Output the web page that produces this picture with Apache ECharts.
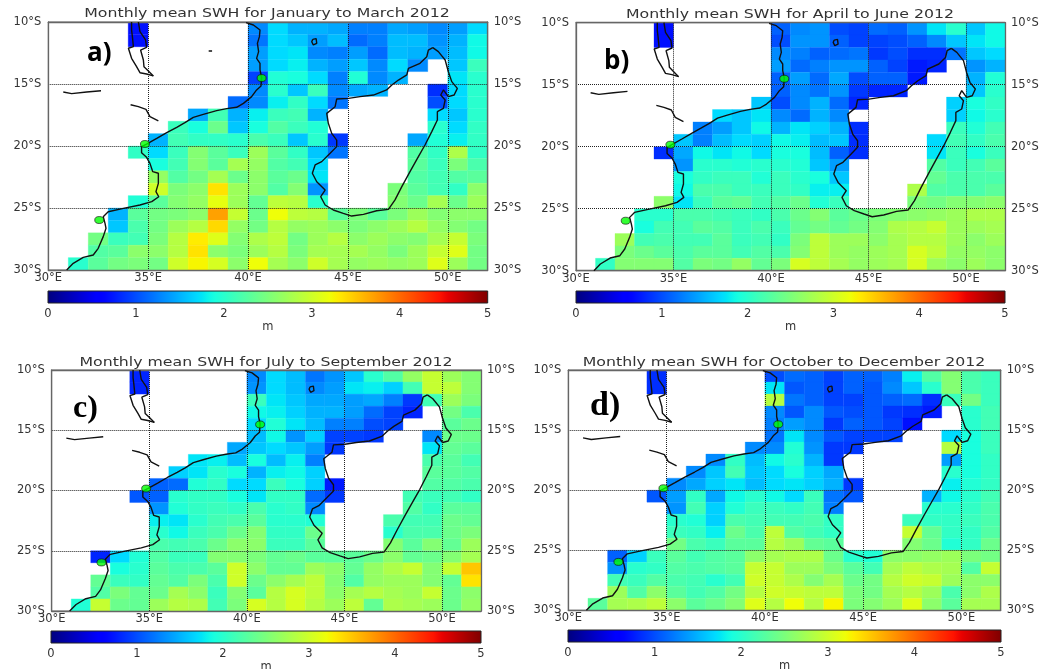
<!DOCTYPE html>
<html>
<head>
<meta charset="utf-8">
<style>html,body{margin:0;padding:0;background:#fff}#c{width:1045px;height:669px;filter:blur(.45px)}</style>
<script src="https://cdn.jsdelivr.net/npm/echarts@6/dist/echarts.min.js"></script>
</head>
<body>
<div id="c"></div>
<script>
const _ = null;
// Significant wave height (m), one row per 1 degree of latitude from 10S to 30S, columns 30E to 51E
const janMar = [
[_,_,_,_,.7,_,_,_,_,_,1.3,1.7,1.5,1.5,1.45,1.25,1.25,1.45,1.4,1.3,1.4,1.7],
[_,_,_,_,.7,_,_,_,_,_,1.2,1.7,1.6,1.4,1.55,1.15,1.25,1.55,1.55,1.35,1.5,1.85],
[_,_,_,_,_,_,_,_,_,_,1.4,1.7,1.75,1.3,1.25,1.4,1.15,1.55,1.5,1.4,1.55,1.85],
[_,_,_,_,_,_,_,_,_,_,1.4,1.7,1.8,1.5,1.4,1.6,1.3,1.7,1.3,_,1.6,2.1],
[_,_,_,_,_,_,_,_,_,_,.95,1.95,1.9,1.7,1.25,1.95,1.3,1.5,_,_,1.75,2.0],
[_,_,_,_,_,_,_,_,_,_,1.3,2.0,1.6,2.1,1.3,1.45,1.5,_,_,.85,1.7,2.0],
[_,_,_,_,_,_,_,_,_,1.15,1.3,1.8,2.05,1.7,1.2,_,_,_,_,1.0,1.7,2.0],
[_,_,_,_,_,_,_,1.45,2.15,1.5,1.8,2.1,2.15,1.5,_,_,_,_,_,1.7,1.6,2.0],
[_,_,_,_,_,_,2.1,1.9,2.4,1.6,1.9,2.25,2.1,1.95,_,_,_,_,_,2.0,1.7,2.05],
[_,_,_,_,_,1.5,2.15,2.05,2.05,2.0,2.2,2.1,1.6,2.0,.9,_,_,_,1.45,1.95,1.8,2.05],
[_,_,_,_,2.05,1.7,2.1,2.55,2.3,2.1,2.7,2.3,2.05,1.6,1.2,_,_,_,2.25,2.05,2.8,2.05],
[_,_,_,_,_,1.9,2.15,2.55,2.3,2.75,2.65,2.25,2.15,1.7,_,_,_,_,2.3,2.1,2.5,2.2],
[_,_,_,_,_,2.65,2.25,2.45,2.75,2.4,2.6,2.3,2.4,1.75,_,_,_,_,2.25,2.15,2.25,2.3],
[_,_,_,_,_,3.0,2.5,2.6,3.35,2.7,2.6,2.25,2.55,1.35,_,_,_,2.5,2.3,2.15,2.05,2.6],
[_,_,_,_,1.95,2.3,2.55,2.65,3.15,2.7,2.35,2.9,2.85,2.0,_,_,_,2.55,2.4,2.75,2.4,2.7],
[_,_,_,1.5,2.3,2.45,2.5,2.6,3.7,2.95,2.4,3.2,2.9,2.85,2.3,2.5,2.3,2.5,2.7,2.55,2.6,2.6],
[_,_,_,1.6,2.2,2.45,2.7,2.85,3.4,2.65,2.45,2.85,2.65,2.7,2.6,2.5,2.6,2.7,2.85,2.65,2.55,2.45],
[_,_,2.45,2.1,2.15,2.5,2.85,3.3,3.1,2.55,2.8,2.9,2.45,2.7,2.85,2.6,2.7,2.6,2.55,2.75,2.95,2.5],
[_,_,2.25,2.3,2.6,2.6,2.85,3.35,2.6,2.5,2.7,2.85,2.5,2.75,2.75,2.75,2.65,2.5,2.7,2.95,3.1,2.45],
[_,2.0,2.3,2.45,2.5,2.45,3.0,3.25,3.05,2.6,3.2,2.75,2.6,3.0,2.75,2.65,2.7,2.65,2.7,3.1,2.7,2.45]
];
const aprJun = [
[_,_,_,_,.7,_,_,_,_,_,1.1,1.3,1.35,1.0,.95,1.15,1.1,1.35,1.75,2.0,1.6,1.85],
[_,_,_,_,.7,_,_,_,_,_,1.0,1.35,1.35,1.1,.95,.95,1.0,1.1,1.3,1.6,1.75,1.85],
[_,_,_,_,_,_,_,_,_,_,1.3,1.25,1.1,1.15,1.2,.9,1.0,.85,.85,1.2,1.6,1.7],
[_,_,_,_,_,_,_,_,_,_,1.4,1.15,1.25,1.35,1.35,1.1,.95,.75,.8,_,1.35,1.5],
[_,_,_,_,_,_,_,_,_,_,1.1,1.4,1.15,1.45,1.0,1.1,1.1,.75,_,_,1.5,1.95],
[_,_,_,_,_,_,_,_,_,_,1.1,1.3,1.2,1.35,.9,.8,.8,_,_,_,1.6,2.0],
[_,_,_,_,_,_,_,_,_,1.6,1.0,1.3,1.5,1.15,.8,_,_,_,_,1.65,1.9,2.05],
[_,_,_,_,_,_,_,1.7,1.6,1.75,1.3,1.15,1.5,1.3,_,_,_,_,_,1.65,1.85,2.0],
[_,_,_,_,_,_,1.25,1.4,1.6,1.85,1.5,1.75,1.65,1.5,.85,_,_,_,_,2.1,1.95,2.15],
[_,_,_,_,_,1.6,1.25,1.55,1.7,1.65,1.85,1.8,1.55,1.6,.85,_,_,_,1.7,2.15,2.05,2.2],
[_,_,_,_,.85,1.45,1.85,1.75,1.85,1.7,1.9,1.9,1.55,1.1,.85,_,_,_,1.75,2.1,1.9,2.1],
[_,_,_,_,_,1.35,2.0,2.0,1.95,2.0,2.0,1.95,1.6,1.4,_,_,_,_,2.25,2.1,2.15,2.3],
[_,_,_,_,_,1.9,2.05,2.1,2.1,1.95,2.1,2.0,1.9,1.6,_,_,_,_,2.35,2.2,2.2,2.2],
[_,_,_,_,_,1.85,2.2,2.2,2.1,2.1,2.1,2.05,1.8,1.8,_,_,_,2.8,2.25,2.2,2.2,2.3],
[_,_,_,_,2.6,1.75,2.1,2.3,2.35,2.15,2.25,2.4,1.95,2.1,_,_,_,2.5,2.45,2.55,2.55,2.6],
[_,_,_,2.0,2.0,2.2,2.2,2.15,2.1,2.05,2.2,2.4,2.55,2.3,2.4,2.5,2.55,2.6,2.65,2.7,2.8,2.8],
[_,_,_,1.9,2.15,2.15,2.3,2.25,2.1,2.2,2.1,2.35,2.45,2.35,2.45,2.55,2.8,2.85,2.95,2.7,2.7,2.75],
[_,_,2.7,2.15,2.2,2.15,2.15,2.3,2.1,2.15,2.05,2.5,2.9,2.7,2.7,2.6,2.75,2.85,2.85,2.7,2.6,2.7],
[_,_,2.5,2.4,2.3,2.2,2.3,2.3,2.15,2.25,2.2,2.55,2.9,2.7,2.65,2.7,2.75,3.05,2.9,2.65,2.65,2.6],
[_,2.05,2.55,2.55,2.55,2.25,2.5,2.45,2.65,2.35,2.5,3.05,2.9,2.75,2.65,2.7,2.75,3.05,2.7,2.6,2.7,2.6]
];
const julSep = [
[_,_,_,_,.8,_,_,_,_,_,1.3,1.7,1.55,1.2,1.35,1.6,2.0,2.25,2.65,2.95,2.7,2.55],
[_,_,_,_,.8,_,_,_,_,_,1.35,1.7,1.55,1.3,1.4,1.75,1.8,1.65,2.15,2.95,2.9,2.55],
[_,_,_,_,_,_,_,_,_,_,2.1,1.75,1.6,1.45,1.45,1.4,1.45,1.25,.9,2.15,2.7,2.5],
[_,_,_,_,_,_,_,_,_,_,1.85,1.8,1.65,1.5,1.5,1.4,1.15,.95,.8,_,2.45,2.2],
[_,_,_,_,_,_,_,_,_,_,1.7,1.95,1.75,1.55,1.25,1.25,1.0,.95,_,_,2.3,2.4],
[_,_,_,_,_,_,_,_,_,_,1.55,1.85,1.35,1.65,.95,.95,.9,_,_,1.3,2.4,2.4],
[_,_,_,_,_,_,_,_,_,1.45,1.6,1.7,1.6,1.4,.9,_,_,_,_,1.75,2.35,2.3],
[_,_,_,_,_,_,_,1.75,1.8,1.55,1.9,1.55,1.8,1.25,_,_,_,_,_,2.2,2.3,2.15],
[_,_,_,_,_,_,1.65,1.75,2.0,1.9,1.5,1.8,1.85,1.65,_,_,_,_,_,2.3,2.3,2.25],
[_,_,_,_,_,1.1,1.15,1.95,2.05,1.7,1.7,2.1,1.9,1.65,.75,_,_,_,_,2.25,2.25,2.2],
[_,_,_,_,1.05,1.1,2.0,2.05,2.05,1.9,1.75,2.05,2.05,1.15,.9,_,_,_,2.15,2.1,2.15,2.05],
[_,_,_,_,_,1.35,1.95,2.05,2.1,2.05,2.2,2.0,2.05,1.3,_,_,_,_,2.25,2.05,2.3,2.3],
[_,_,_,_,_,1.8,1.75,2.0,2.15,2.2,2.3,2.0,2.0,1.95,_,_,_,2.2,2.15,2.15,2.4,2.35],
[_,_,_,_,_,2.0,1.85,2.1,2.2,2.4,2.55,2.05,2.05,2.4,_,_,_,2.0,2.2,2.2,2.4,2.5],
[_,_,_,_,_,2.2,2.15,2.2,2.4,2.6,2.6,2.1,2.1,2.3,_,_,_,2.55,2.3,2.55,2.35,2.7],
[_,_,.8,1.7,1.95,2.25,2.1,2.1,2.55,2.55,2.5,2.35,2.4,2.3,2.3,2.3,2.4,2.6,2.35,2.4,2.55,2.75],
[_,_,_,1.9,2.0,2.3,2.2,2.2,2.3,3.0,2.6,2.35,2.35,2.7,2.6,2.35,2.65,2.8,2.95,2.55,2.95,3.5],
[_,_,2.35,2.1,2.05,2.35,2.25,2.5,2.2,3.0,2.4,2.6,2.75,2.9,2.55,2.25,2.65,2.7,2.7,2.55,2.35,3.35],
[_,_,2.25,2.5,2.35,2.4,2.75,2.6,2.1,2.55,2.3,2.85,3.05,2.9,2.6,2.75,2.85,2.75,2.7,2.95,2.4,2.6],
[_,1.95,2.95,2.4,2.35,2.7,2.85,2.8,2.15,2.5,3.05,2.85,3.05,2.85,2.7,2.9,2.35,2.8,2.75,2.7,2.4,2.65]
];
const octDec = [
[_,_,_,_,.85,_,_,_,_,_,1.0,1.15,1.1,.95,1.1,1.1,1.25,1.8,2.25,2.55,2.2,2.1],
[_,_,_,_,.85,_,_,_,_,_,1.75,1.05,1.1,.95,1.1,1.05,1.3,1.6,2.0,2.55,2.2,2.1],
[_,_,_,_,_,_,_,_,_,_,2.85,1.2,1.1,.95,.95,1.05,1.1,1.15,.85,2.1,2.45,2.1],
[_,_,_,_,_,_,_,_,_,_,1.3,1.05,1.3,1.05,1.0,1.05,.9,.85,.75,_,2.0,2.15],
[_,_,_,_,_,_,_,_,_,_,1.25,1.4,1.3,.9,1.1,1.05,.95,.7,_,_,2.0,2.15],
[_,_,_,_,_,_,_,_,_,_,1.2,1.75,1.3,1.05,.95,.95,.95,_,_,1.7,1.9,2.1],
[_,_,_,_,_,_,_,_,_,1.3,1.3,1.95,1.35,.9,.9,_,_,_,_,2.85,1.9,2.1],
[_,_,_,_,_,_,_,1.3,2.05,1.55,1.85,2.0,1.5,.9,_,_,_,_,_,1.4,1.9,2.05],
[_,_,_,_,_,_,1.3,1.6,2.15,1.6,1.7,1.9,1.65,1.45,_,_,_,_,_,2.0,1.9,2.05],
[_,_,_,_,_,1.3,1.45,1.65,1.75,1.55,1.7,1.75,1.65,1.5,.9,_,_,_,_,1.8,1.95,2.05],
[_,_,_,_,1.05,1.4,2.05,1.45,1.85,2.0,1.85,1.7,2.1,1.2,1.05,_,_,_,1.5,1.85,2.0,2.15],
[_,_,_,_,_,1.35,2.15,1.65,1.95,2.1,2.1,2.05,2.15,1.25,_,_,_,_,2.0,2.0,2.05,2.2],
[_,_,_,_,_,2.0,1.95,1.65,2.2,2.15,2.15,2.15,2.2,2.05,_,_,_,2.1,2.05,2.05,2.1,2.2],
[_,_,_,_,_,2.1,2.05,1.8,2.4,2.2,2.9,2.25,2.15,2.05,_,_,_,2.95,2.35,2.05,2.05,2.25],
[_,_,_,_,_,2.45,2.2,2.1,2.3,2.3,2.85,2.7,2.35,2.3,_,_,_,2.55,2.4,1.95,2.05,2.4],
[_,_,1.1,1.65,2.1,2.3,2.15,2.25,2.3,2.6,2.75,2.8,2.8,2.4,2.0,1.95,2.6,2.6,2.65,2.7,2.5,2.45],
[_,_,1.35,2.0,2.05,2.25,2.2,2.25,2.3,2.95,2.95,2.7,2.7,2.5,2.3,2.15,2.75,2.9,2.8,2.75,2.25,2.95],
[_,_,2.15,2.1,2.25,2.2,2.15,2.0,2.15,3.0,2.95,2.8,2.55,2.75,2.4,2.45,2.85,3.0,2.95,2.7,2.6,2.6],
[_,_,2.7,2.25,2.6,2.3,2.15,2.25,2.45,2.85,3.0,2.95,2.9,2.9,2.5,2.45,2.75,2.85,2.7,2.2,2.6,2.8],
[_,2.3,2.75,2.8,2.9,2.6,2.3,2.4,2.55,3.1,2.85,3.2,2.85,3.25,2.5,2.55,2.7,3.1,2.6,2.3,2.75,2.75]
];
// Coastlines as [lon, lat]
const africaCoast = [[39.90,-10.05],[40.27,-10.24],[40.60,-10.65],[40.57,-11.18],[40.47,-11.72],[40.53,-12.39],[40.43,-12.93],[40.60,-13.33],[40.60,-13.87],[40.68,-14.46],[40.65,-15.16],[40.43,-15.48],[40.18,-16.02],[39.77,-16.56],[39.43,-16.88],[38.93,-16.99],[38.43,-17.15],[37.76,-17.45],[37.26,-17.69],[36.84,-18.12],[36.43,-18.49],[35.93,-18.92],[35.43,-19.38],[34.92,-19.84],[34.67,-20.05],[34.67,-20.54],[34.92,-20.91],[35.09,-21.40],[35.23,-22.07],[35.51,-22.20],[35.51,-23.01],[35.39,-23.68],[35.53,-24.09],[35.18,-24.49],[34.59,-24.76],[33.76,-25.03],[33.00,-25.30],[32.75,-25.70],[32.84,-26.24],[32.89,-26.64],[32.75,-27.31],[32.50,-28.25],[32.25,-28.79],[31.75,-28.98],[31.25,-29.46],[30.92,-30.00]];
const madagascarCoast = [[49.25,-12.07],[49.53,-12.39],[49.87,-13.06],[50.03,-14.01],[50.20,-14.81],[50.48,-15.35],[50.32,-15.89],[50.03,-16.02],[49.78,-15.48],[49.65,-15.89],[49.87,-16.29],[49.78,-16.96],[49.48,-17.23],[49.48,-17.90],[49.20,-18.84],[48.86,-19.92],[48.53,-20.86],[48.11,-22.07],[47.70,-23.28],[47.36,-24.35],[47.03,-25.11],[46.44,-25.22],[45.78,-25.51],[45.19,-25.65],[44.77,-25.43],[44.27,-25.16],[43.86,-24.76],[43.64,-24.09],[43.86,-23.55],[43.44,-22.88],[43.22,-22.20],[43.36,-21.53],[43.69,-21.26],[44.11,-20.59],[44.44,-20.05],[44.44,-19.52],[44.19,-18.98],[44.02,-18.17],[43.94,-17.37],[44.36,-16.83],[44.44,-16.21],[45.03,-16.16],[45.61,-16.02],[46.28,-15.89],[46.94,-15.48],[47.20,-15.08],[47.53,-14.68],[47.95,-14.27],[48.03,-13.74],[48.61,-13.33],[48.95,-12.80],[49.03,-12.26],[49.25,-12.07]];
const lakeWest = [[34.17,-10],[34.17,-10.65],[34.21,-11.18],[34.26,-11.99],[34.01,-12.12],[34.17,-12.93],[34.42,-13.60],[34.59,-14.09],[34.92,-14.19],[35.26,-14.35]];
const lakeEast = [[34.51,-10],[34.59,-10.78],[34.87,-11.45],[34.92,-12.04],[34.62,-12.26],[34.76,-13.06],[34.79,-13.60],[35.01,-13.95],[35.26,-14.35]];
const riverWest = [[30.75,-15.65],[31.17,-15.78],[31.92,-15.65],[32.64,-15.54]];
const riverEast = [[34.12,-16.67],[34.51,-16.83],[34.89,-17.04],[35.09,-17.63],[35.51,-17.98]];
const comoros = [[43.24,-11.40],[43.41,-11.34],[43.44,-11.72],[43.51,-11.85],[43.27,-11.85],[43.19,-11.59],[43.24,-11.40]];
const strayMark = [[38.03,-12.34],[38.20,-12.34]];
const stations = [[40.68,-14.52],[34.84,-19.84],[32.55,-25.97]];
const colorTicks = [0,1,2,3,4,5];
const titles = ['Monthly mean SWH for January to March 2012','Monthly mean SWH for April to June 2012','Monthly mean SWH for July to September 2012','Monthly mean SWH for October to December 2012'];
const letters = ['a)','b)','c)','d)'];
const grids = [janMar,aprJun,julSep,octDec];

const rSeg=[[0,0],[.35,0],[.66,1],[.89,1],[1,.5]];
const gSeg=[[0,0],[.125,0],[.375,1],[.64,1],[.91,0],[1,0]];
const bSeg=[[0,.5],[.11,1],[.34,1],[.65,0],[1,0]];
function seg(s,t){for(let i=1;i<s.length;i++){if(t<=s[i][0]){const a=s[i-1],b=s[i];return a[1]+(b[1]-a[1])*(t-a[0])/(b[0]-a[0]);}}return s[s.length-1][1];}
function jet(v){const t=Math.max(0,Math.min(1,v/5));return 'rgb('+[rSeg,gSeg,bSeg].map(s=>Math.round(seg(s,t)*255)).join(',')+')';}
const stops=[];for(let i=0;i<=100;i++)stops.push({offset:i/100,color:jet(i/20)});

const panels=[
 {l:48.3,r:487.7,t:22,b:270,bt:291,bb:303,bl:48,br:487.7,tx:267,ty:14,lx:87,ly:41,font:'bold 26px "Open Sans"'},
 {l:576,r:1005,t:22.7,b:270.7,bt:291,bb:303,bl:576,br:1005,tx:790,ty:15,lx:604,ly:49,font:'bold 26px "Open Sans"'},
 {l:51.7,r:481,t:370,b:611,bt:631,bb:643,bl:51,br:481,tx:266,ty:363,lx:73,ly:393,font:'bold 32px "Liberation Serif"'},
 {l:568.3,r:1000.7,t:370,b:610.3,bt:630,bb:642,bl:568,br:1001,tx:784,ty:363,lx:590,ly:389,font:'bold 34px "Liberation Serif"'}
];
const txt='#333',fam='"DejaVu Sans"',W=1045,H=669;
const option={animation:false,backgroundColor:'#fff',grid:[],xAxis:[],yAxis:[],series:[],graphic:[]};
panels.forEach((p,k)=>{
 const gi=option.grid.length;
 option.graphic.push({type:'text',x:p.tx,y:p.ty,scaleX:1.26,z:10,style:{text:titles[k],textAlign:'center',textVerticalAlign:'middle',font:'12.5px '+fam,fill:txt}});
 option.grid.push({left:p.l,width:p.r-p.l,top:p.t,height:p.b-p.t,outerBoundsMode:'none',show:true,backgroundColor:'#fff',borderColor:'#666',borderWidth:1});
 option.grid.push({left:p.bl,width:p.br-p.bl,top:p.bt,height:p.bb-p.bt,outerBoundsMode:'none',show:true,borderColor:'#222',borderWidth:1,z:5});
 const xi=option.xAxis.length,yi=option.yAxis.length;
 const grid={show:true,lineStyle:{color:'#222',width:1,type:[1,1]}};
 const frame={show:true,lineStyle:{color:'#666',width:1.3}};
 option.xAxis.push({type:'value',gridIndex:gi,min:30,max:52,interval:5,z:5,axisLine:frame,axisTick:{show:false},splitLine:grid,
   axisLabel:{margin:2,color:txt,fontFamily:fam,fontSize:11.5,formatter:v=>v%5===0?v+'°E':''}});
 option.xAxis.push({type:'value',gridIndex:gi,position:'top',min:30,max:52,interval:5,z:5,axisLine:frame,axisTick:{show:false},splitLine:{show:false},axisLabel:{show:false}});
 option.yAxis.push({type:'value',gridIndex:gi,min:-30,max:-10,interval:5,z:5,axisLine:frame,axisTick:{show:false},splitLine:grid,
   axisLabel:{margin:7,color:txt,fontFamily:fam,fontSize:11.5,formatter:v=>(-v)+'°S'}});
 option.yAxis.push({type:'value',gridIndex:gi,position:'right',min:-30,max:-10,interval:5,z:5,axisLine:frame,axisTick:{show:false},splitLine:{show:false},
   axisLabel:{margin:6,color:txt,fontFamily:fam,fontSize:11.5,formatter:v=>(-v)+'°S'}});
 option.xAxis.push({type:'value',gridIndex:gi+1,min:colorTicks[0],max:colorTicks[5],interval:1,axisLine:{show:false},axisTick:{show:false},splitLine:{show:false},
   name:'m',nameLocation:'middle',nameGap:16,nameTextStyle:{color:txt,fontFamily:fam,fontSize:11.5},
   axisLabel:{margin:5,color:txt,fontFamily:fam,fontSize:11.5}});
 option.yAxis.push({type:'value',gridIndex:gi+1,min:0,max:1,show:false});
 const cells=[];
 grids[k].forEach((row,r)=>row.forEach((v,c)=>{if(v!==null)cells.push([30+c,-10-r,v]);}));
 option.series.push({type:'custom',xAxisIndex:xi,yAxisIndex:yi,z:2,silent:true,data:cells,clip:true,
   encode:{x:0,y:1},renderItem:(params,api)=>{
    const a=api.coord([api.value(0),api.value(1)]),b=api.coord([api.value(0)+1,api.value(1)-1]);
    return {type:'rect',shape:{x:a[0],y:a[1],width:b[0]-a[0],height:b[1]-a[1]},style:{fill:jet(api.value(2)),stroke:jet(api.value(2)),lineWidth:.3}};
   }});
 option.series.push({type:'custom',xAxisIndex:xi+2,yAxisIndex:yi+2,z:2,silent:true,data:[[0,1,5,0]],
   renderItem:(params,api)=>{
    const a=api.coord([api.value(0),api.value(1)]),b=api.coord([api.value(2),api.value(3)]);
    return {type:'rect',shape:{x:a[0],y:a[1],width:b[0]-a[0],height:b[1]-a[1]},
     style:{fill:new echarts.graphic.LinearGradient(0,0,1,0,stops)}};
   }});
 const lines=[africaCoast,madagascarCoast,lakeWest,lakeEast,riverWest,riverEast,comoros];
 if(k===0)lines.push(strayMark);
 lines.forEach(d=>option.series.push({type:'line',xAxisIndex:xi,yAxisIndex:yi,z:6,silent:true,data:d,showSymbol:false,smooth:false,lineStyle:{color:'#111',width:1.4}}));
 option.series.push({type:'scatter',xAxisIndex:xi,yAxisIndex:yi,z:7,silent:true,data:stations,symbol:'circle',symbolSize:[9,7],itemStyle:{color:'#00ff00',borderColor:'#111',borderWidth:.8}});
 option.graphic.push({type:'text',left:p.lx,top:p.ly,z:10,style:{text:letters[k],font:p.font,fill:'#000'}});
});
const chart=echarts.init(document.getElementById('c'),null,{renderer:'canvas',width:W,height:H});
chart.setOption(option);
</script>
</body>
</html>
